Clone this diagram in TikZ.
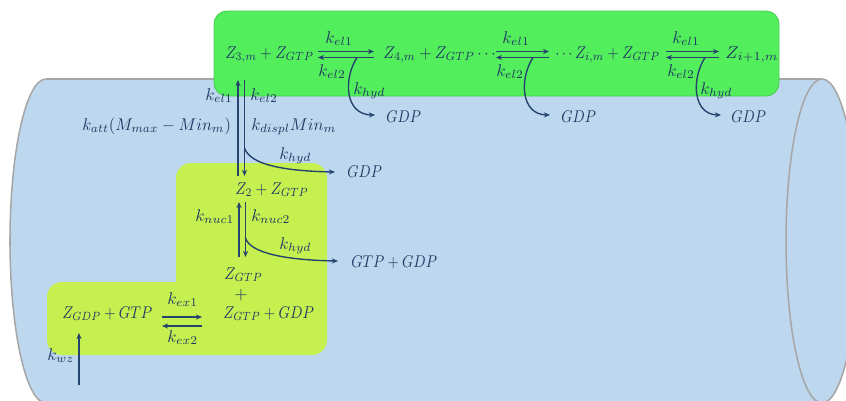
\documentclass[tikz,border=0pt]{standalone}
\usetikzlibrary{arrows.meta}
\definecolor{cylfill}{RGB}{189,215,238}
\definecolor{cylline}{RGB}{166,166,166}
\definecolor{topgreen}{RGB}{83,238,92}
\definecolor{topgreenline}{RGB}{70,205,80}
\definecolor{limefill}{RGB}{197,240,80}
\definecolor{ink}{RGB}{32,56,100}
\definecolor{arr}{RGB}{36,68,110}
\newcommand{\sxm}[2]{\scalebox{#1}[1]{$#2$}}
\begin{document}
\begin{tikzpicture}[x=0.5882pt,y=-0.5882pt,
  lbl/.style={inner sep=0pt, anchor=base west, text=ink, font=\fontsize{10}{12}\selectfont},
  rx/.style={draw=arr, line width=0.82pt, -{Stealth[length=3.6pt,width=3pt]}},
  hyd/.style={draw=arr, line width=0.82pt, -{Stealth[length=3.6pt,width=3pt]}},
]
\useasboundingbox (0,0) rectangle (846,400);
% cylinder
\draw[cylline, line width=0.9pt, fill=cylfill] (46,241) ellipse [x radius=36, y radius=162];
\fill[cylfill] (46,79) rectangle (822,403);
\draw[cylline, line width=0.9pt] (46,79) -- (822,79);
\draw[cylline, line width=0.9pt, fill=cylfill] (822,241) ellipse [x radius=36, y radius=162];
% boxes
\draw[fill=topgreen, draw=topgreenline, line width=0.5pt, rounded corners=7.6pt] (214,11) rectangle (779,96);
\fill[limefill, rounded corners=8.8pt] (176,282) -- (176,163) -- (327,163) -- (327,355) -- (47,355) -- (47,282) -- (176,282);

% top chain
\node[lbl] (z3) at (225,58) {\sxm{0.89}{Z_{3,m}+Z_{GTP}}};
\node[lbl] (z4) at (383,58) {\sxm{0.92}{Z_{4,m}+Z_{GTP}\cdots}};
\node[lbl] (zi) at (555,58) {\sxm{0.87}{\cdots Z_{i,m}+Z_{GTP}}};
\node[lbl] (zi1) at (725,58) {\sxm{1.05}{Z_{i+1,m}}};

\foreach \n/\xa/\xb/\ka/\kb/\cs/\ce/\g in {1/318/374/325/318/357/375/386, 2/496/549/502/496/533/550/561, 3/666/719/672/667/705/721/731}{
  \coordinate (f\n a) at (\xa,51.5);
  \coordinate (f\n b) at (\xb,51.5);
  \coordinate (r\n a) at (\xb,57.5);
  \coordinate (r\n b) at (\xa,57.5);
  \draw[rx] (f\n a) -- (f\n b);
  \draw[rx] (r\n a) -- (r\n b);
  \node[lbl] (kf\n) at (\ka,43) {$k_{el1}$};
  \node[lbl] (kr\n) at (\kb,76) {$k_{el2}$};
  \coordinate (hs\n) at (\cs,57.5);
  \coordinate (he\n) at (\ce,115);
  \node[lbl] (gdp\n) at (\g,122) {\sxm{0.84}{GDP}};
  \draw[hyd] (hs\n) .. controls ([shift={(-14,22)}]hs\n) and ([shift={(-12,57)}]hs\n) .. (he\n);
}
\node[lbl] (kh1) at (353,94) {$k_{hyd}$};
\node[lbl] (kh3) at (700,94) {$k_{hyd}$};

% attachment
\coordinate (u1a) at (238,176);
\coordinate (u1b) at (238,80);
\coordinate (d1a) at (244.5,80);
\coordinate (d1b) at (244.5,176);
\draw[rx] (u1a) -- (u1b);
\draw[rx] (d1a) -- (d1b);
\node[lbl] (kel1v) at (205,100) {$k_{el1}$};
\node[lbl] (kel2v) at (250,100) {$k_{el2}$};
\node[lbl] (katt) at (82,130) {\sxm{0.97}{k_{att}(M_{max}-Min_m)}};
\node[lbl] (kdis) at (251,130) {\sxm{0.98}{k_{displ}Min_m}};
\coordinate (h4s) at (244.5,148);
\coordinate (h4e) at (335,172);
\draw[hyd] (h4s) .. controls (250,165) and (285,171) .. (h4e);
\node[lbl] (kh4) at (279,159) {$k_{hyd}$};
\node[lbl] (gdp4) at (347,177) {\sxm{0.84}{GDP}};

% nucleation
\node[lbl] (z2) at (235,194) {\sxm{0.88}{Z_2+Z_{GTP}}};
\coordinate (u2a) at (239,257);
\coordinate (u2b) at (239,202);
\coordinate (d2a) at (245.5,202);
\coordinate (d2b) at (245.5,257);
\draw[rx] (u2a) -- (u2b);
\draw[rx] (d2a) -- (d2b);
\node[lbl] (kn1) at (195,221) {$k_{nuc1}$};
\node[lbl] (kn2) at (251,221) {$k_{nuc2}$};
\coordinate (h5s) at (245.5,238);
\coordinate (h5e) at (338,261);
\draw[hyd] (h5s) .. controls (250,253) and (285,260) .. (h5e);
\node[lbl] (kh5) at (279,249) {$k_{hyd}$};
\node[lbl] (gtpgdp) at (351,267) {\sxm{0.85}{GTP+GDP}};

% exchange
\node[lbl] (zgtp) at (224,279) {\sxm{0.88}{Z_{GTP}}};
\node[lbl, anchor=center] (plus) at (241,295) {$+$};
\node[lbl] (zgtpgdp) at (223,318) {\sxm{0.86}{Z_{GTP}+GDP}};
\node[lbl] (zgdp) at (62,318) {\sxm{0.86}{Z_{GDP}+GTP}};
\coordinate (e1a) at (162,317);
\coordinate (e1b) at (202,317);
\coordinate (e2a) at (202,326);
\coordinate (e2b) at (162,326);
\draw[rx] (e1a) -- (e1b);
\draw[rx] (e2a) -- (e2b);
\node[lbl] (kex1) at (167,304) {$k_{ex1}$};
\node[lbl] (kex2) at (167,342) {$k_{ex2}$};
\node[lbl] (kwz) at (47,360) {$k_{wz}$};
\coordinate (wza) at (79,385);
\coordinate (wzb) at (79,333);
\draw[rx] (wza) -- (wzb);
\end{tikzpicture}
\end{document}
